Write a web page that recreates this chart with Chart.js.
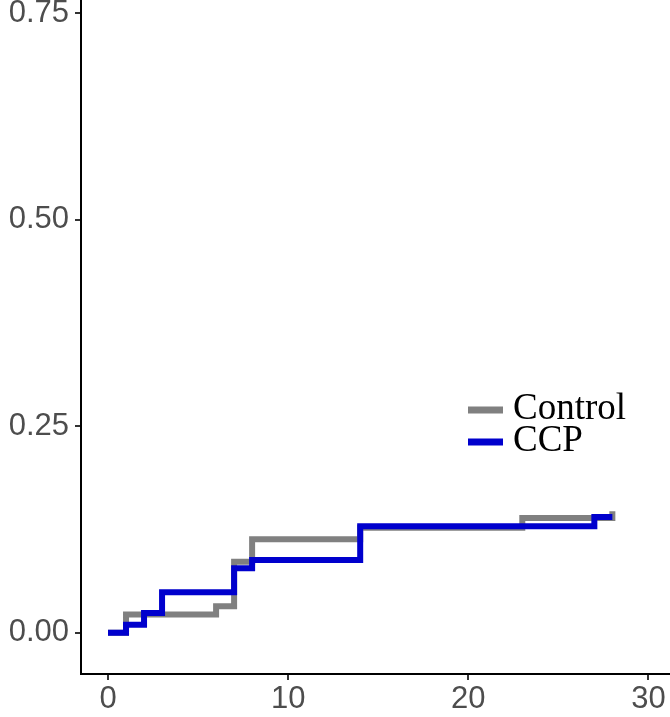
<!DOCTYPE html>
<html>
<head>
<meta charset="utf-8">
<script src="https://cdn.jsdelivr.net/npm/chart.js@4/dist/chart.umd.min.js"></script>
<style>
	body { margin: 0; background: #fff; }
	#wrap { width: 670px; height: 717px; }
</style>
</head>
<body>
<div id="wrap"><canvas id="km-chart" width="670" height="717"></canvas></div>
<script>
// Cumulative incidence, step points (time, value after the step)
var ctrlTimes = [0, 1, 6, 7, 8, 14, 23, 28];
var ctrlRisk = [0, 0.022, 0.032, 0.086, 0.113, 0.127, 0.139, 0.147];
var ccpTimes = [0, 1, 2, 3, 7, 8, 14, 27, 28];
var ccpRisk = [0, 0.0097, 0.024, 0.049, 0.078, 0.088, 0.129, 0.140, 0.140];

var xTicks = [0, 10, 20, 30];
var yTicks = [0, 0.25, 0.5, 0.75];
var groupNames = ['Control', 'CCP'];
var groupColors = ['#808080', '#0000cd'];

function toPoints(times, vals) {
	return times.map(function(t, i) { return {x: t, y: vals[i]}; });
}

// Legend drawn inside the plot area, like the ggplot one
var insideLegend = {
	id: 'insideLegend',
	afterDraw: function(chart) {
		var ctx = chart.ctx;
		ctx.save();
		ctx.font = '37px "Liberation Serif", "Times New Roman", serif';
		ctx.textBaseline = 'alphabetic';
		ctx.fillStyle = '#000';
		groupNames.forEach(function(name, i) {
			var y = 410 + i * 32;
			ctx.strokeStyle = groupColors[i];
			ctx.lineWidth = 7;
			ctx.beginPath();
			ctx.moveTo(468, y);
			ctx.lineTo(503, y);
			ctx.stroke();
			ctx.fillText(name, 513, y + 9);
		});
		ctx.restore();
	}
};

var tickFont = {family: '"Liberation Sans", Arial, sans-serif', size: 31};

// no extra room for the labels that stick out of the axis ends
function noPad(axis) {
	axis.paddingTop = 0;
	axis.paddingBottom = 0;
	axis.paddingLeft = 0;
	axis.paddingRight = 0;
}

new Chart(document.getElementById('km-chart').getContext('2d'), {
	type: 'line',
	data: {
		datasets: [{
			label: groupNames[0],
			data: toPoints(ctrlTimes, ctrlRisk),
			borderColor: groupColors[0],
			order: 1
		}, {
			label: groupNames[1],
			data: toPoints(ccpTimes, ccpRisk),
			borderColor: groupColors[1],
			order: 0
		}]
	},
	options: {
		responsive: false,
		animation: false,
		layout: {padding: 0},
		datasets: {
			line: {
				stepped: 'before',
				borderWidth: 6,
				pointRadius: 0,
				fill: false,
				borderCapStyle: 'butt',
				borderJoinStyle: 'miter'
			}
		},
		plugins: {
			legend: {display: false},
			tooltip: {enabled: false}
		},
		scales: {
			x: {
				type: 'linear',
				min: -1.5,
				max: 31.2,
				afterBuildTicks: function(axis) {
					axis.ticks = xTicks.map(function(v) { return {value: v}; });
				},
				afterFit: function(axis) { axis.height = 43; noPad(axis); },
				grid: {display: true, drawOnChartArea: false, drawTicks: true, tickLength: 6, color: '#333', lineWidth: 2},
				border: {display: true, color: '#000', width: 2},
				ticks: {color: '#4d4d4d', font: tickFont, padding: 1, maxRotation: 0}
			},
			y: {
				type: 'linear',
				min: -0.05,
				max: 0.766,
				afterBuildTicks: function(axis) {
					axis.ticks = yTicks.map(function(v) { return {value: v}; });
				},
				afterFit: function(axis) { axis.width = 81; noPad(axis); },
				grid: {display: true, drawOnChartArea: false, drawTicks: true, tickLength: 6, color: '#333', lineWidth: 2},
				border: {display: true, color: '#000', width: 2},
				ticks: {
					color: '#4d4d4d',
					font: tickFont,
					padding: 6,
					callback: function(v) { return v.toFixed(2); }
				}
			}
		}
	},
	plugins: [insideLegend]
});
</script>
</body>
</html>
